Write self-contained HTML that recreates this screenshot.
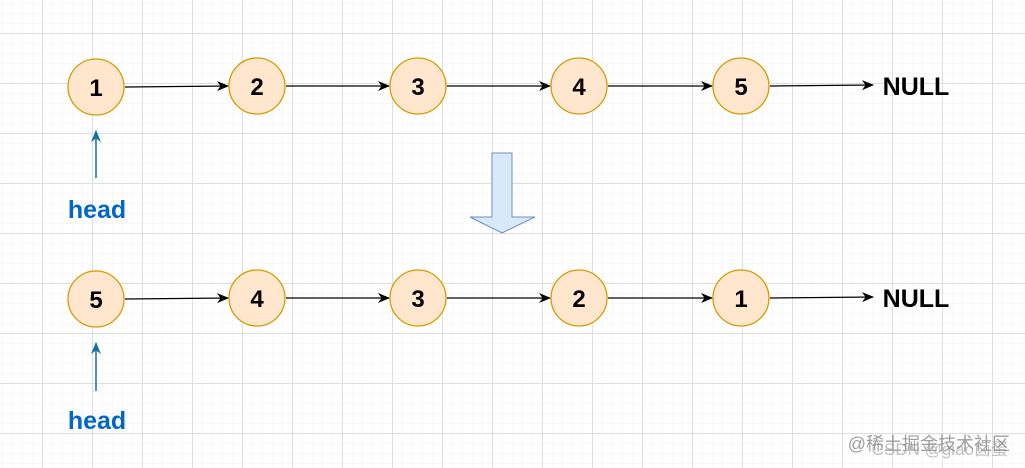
<!DOCTYPE html>
<html><head><meta charset="utf-8"><style>
html,body{margin:0;padding:0;background:#fff;}
svg{display:block;}
</style></head><body>
<svg width="1025" height="468" xmlns="http://www.w3.org/2000/svg">
<defs>
<pattern id="minor" x="2" y="3" width="10" height="10" patternUnits="userSpaceOnUse">
<path d="M0 0H10M0 0V10" stroke="#f0f0f0" stroke-width="1" fill="none"/>
</pattern>
<pattern id="major" x="42" y="33" width="50" height="50" patternUnits="userSpaceOnUse">
<path d="M0 0.5H50M0.5 0V50" stroke="#dedede" stroke-width="1" fill="none"/>
</pattern>
<marker id="ah" markerWidth="12" markerHeight="12" refX="11" refY="6" orient="auto" markerUnits="userSpaceOnUse">
<path d="M0 1 L12 6 L0 11 L3.5 6 Z" fill="#000"/>
</marker>
<marker id="bh" markerWidth="12" markerHeight="12" refX="11" refY="6" orient="auto" markerUnits="userSpaceOnUse">
<path d="M0 1 L12 6 L0 11 L3.5 6 Z" fill="#10739e"/>
</marker>
</defs>
<rect width="1025" height="468" fill="url(#minor)"/>
<rect width="1025" height="468" fill="url(#major)"/>

<g stroke="#000" stroke-width="1.3" marker-end="url(#ah)">
<line x1="125" y1="87" x2="228" y2="86"/>
<line x1="286" y1="86" x2="389" y2="86"/>
<line x1="447" y1="86" x2="550" y2="86"/>
<line x1="608" y1="86" x2="712" y2="86"/>
<line x1="770" y1="86" x2="873" y2="85"/>
<line x1="125" y1="299" x2="228" y2="298"/>
<line x1="286" y1="298" x2="389" y2="298"/>
<line x1="447" y1="298" x2="550" y2="298"/>
<line x1="608" y1="298" x2="712" y2="298"/>
<line x1="770" y1="298" x2="873" y2="297"/>
</g>
<g fill="#ffe6cc" stroke="#d79b00" stroke-width="1.3">
<circle cx="96" cy="87" r="28"/><circle cx="257" cy="86" r="28"/><circle cx="418" cy="86" r="28"/><circle cx="579" cy="86" r="28"/><circle cx="741" cy="86" r="28"/>
<circle cx="96" cy="299" r="28"/><circle cx="257" cy="298" r="28"/><circle cx="418" cy="298" r="28"/><circle cx="579" cy="298" r="28"/><circle cx="741" cy="298" r="28"/>
</g>
<g font-family="Liberation Sans, sans-serif" font-weight="bold" font-size="24" text-anchor="middle" fill="#000">
<text x="96" y="96">1</text><text x="257" y="95">2</text><text x="418" y="95">3</text><text x="579" y="95">4</text><text x="741" y="95">5</text>
<text x="96" y="308">5</text><text x="257" y="307">4</text><text x="418" y="307">3</text><text x="579" y="307">2</text><text x="741" y="307">1</text>
</g>
<g font-family="Liberation Sans, sans-serif" font-weight="bold" font-size="25" text-anchor="middle" fill="#000">
<text x="916" y="95">NULL</text><text x="916" y="307">NULL</text>
</g>
<g stroke="#10739e" stroke-width="1.5" marker-end="url(#bh)">
<line x1="96" y1="178" x2="96" y2="131"/>
<line x1="96" y1="391" x2="96" y2="343"/>
</g>
<g font-family="Liberation Sans, sans-serif" font-weight="bold" font-size="25" text-anchor="middle" fill="#0066cc">
<text x="97" y="218">head</text><text x="97" y="429">head</text>
</g>
<path d="M492 153 H512 V217 H535 L502 233 L470 217 H492 Z" fill="#dae8fc" stroke="#6c8ebf" stroke-width="1"/>
<text x="1010" y="450" text-anchor="end" font-family="Liberation Sans, Noto Sans CJK SC, sans-serif" font-size="18" fill="#888" opacity="0.8">@稀土掘金技术社区</text>
<text x="1008" y="455" text-anchor="end" font-family="Liberation Sans, Noto Sans CJK SC, sans-serif" font-size="17" fill="#999" opacity="0.6">CSDN @giao卤蛋</text>
</svg>
</body></html>
